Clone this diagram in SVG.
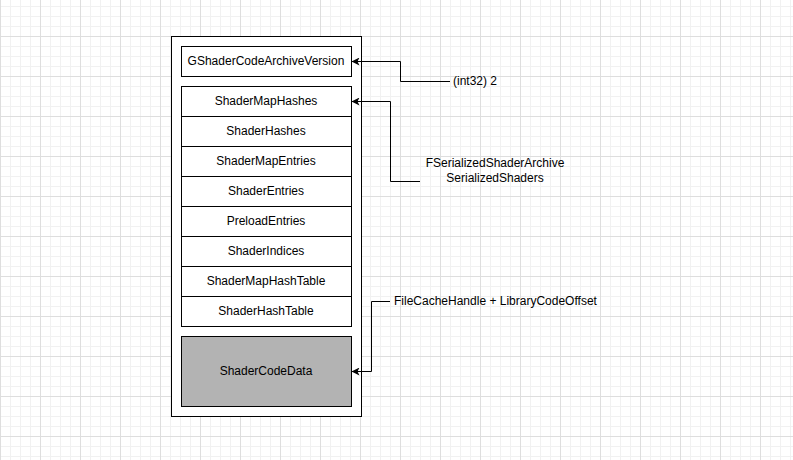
<svg xmlns="http://www.w3.org/2000/svg" width="793" height="460" viewBox="0 0 793 460">
  <defs>
    <pattern id="minor" patternUnits="userSpaceOnUse" x="0" y="6" width="10" height="10">
      <rect x="0" y="0" width="10" height="1" fill="#f1f1f1"/>
      <rect x="0" y="0" width="1" height="10" fill="#f1f1f1"/>
    </pattern>
    <pattern id="major" patternUnits="userSpaceOnUse" x="0" y="36" width="40" height="40">
      <rect x="0" y="0" width="40" height="1" fill="#dedede"/>
      <rect x="0" y="0" width="1" height="40" fill="#dedede"/>
    </pattern>
    <marker id="arrow" viewBox="0 0 10 10" refX="10" refY="5" markerWidth="8" markerHeight="8" markerUnits="userSpaceOnUse" orient="auto">
      <path d="M0,0 L10,5 L0,10 L2.5,5 Z" fill="#000"/>
    </marker>
    <style>
      .box { fill: #ffffff; stroke: #000; stroke-width: 1; }
      .dark { fill: #b3b3b3; stroke: #000; stroke-width: 1; }
      .lbl { font-family: "Liberation Sans", Arial, sans-serif; font-size: 12px; fill: #000; }
      .mid { text-anchor: middle; dominant-baseline: central; }
      .conn { fill: none; stroke: #000; stroke-width: 1; marker-end: url(#arrow); }
    </style>
  </defs>
  <rect x="0" y="0" width="793" height="460" fill="#ffffff"/>
  <rect x="0" y="0" width="793" height="460" fill="url(#minor)"/>
  <rect x="0" y="0" width="793" height="460" fill="url(#major)"/>

  <g id="container">
    <rect class="box" x="171.5" y="36.5" width="190" height="380"/>
  </g>
  <g id="version">
    <rect class="box" x="181.5" y="46.5" width="170" height="30"/>
    <text class="lbl mid" x="266" y="61">GShaderCodeArchiveVersion</text>
  </g>
  <g id="shaderMapHashes">
    <rect class="box" x="181.5" y="86.5" width="170" height="30"/>
    <text class="lbl mid" x="266" y="101">ShaderMapHashes</text>
  </g>
  <g id="shaderHashes">
    <rect class="box" x="181.5" y="116.5" width="170" height="30"/>
    <text class="lbl mid" x="266" y="131">ShaderHashes</text>
  </g>
  <g id="shaderMapEntries">
    <rect class="box" x="181.5" y="146.5" width="170" height="30"/>
    <text class="lbl mid" x="266" y="161">ShaderMapEntries</text>
  </g>
  <g id="shaderEntries">
    <rect class="box" x="181.5" y="176.5" width="170" height="30"/>
    <text class="lbl mid" x="266" y="191">ShaderEntries</text>
  </g>
  <g id="preloadEntries">
    <rect class="box" x="181.5" y="206.5" width="170" height="30"/>
    <text class="lbl mid" x="266" y="221">PreloadEntries</text>
  </g>
  <g id="shaderIndices">
    <rect class="box" x="181.5" y="236.5" width="170" height="30"/>
    <text class="lbl mid" x="266" y="251">ShaderIndices</text>
  </g>
  <g id="shaderMapHashTable">
    <rect class="box" x="181.5" y="266.5" width="170" height="30"/>
    <text class="lbl mid" x="266" y="281">ShaderMapHashTable</text>
  </g>
  <g id="shaderHashTable">
    <rect class="box" x="181.5" y="296.5" width="170" height="30"/>
    <text class="lbl mid" x="266" y="311">ShaderHashTable</text>
  </g>
  <g id="shaderCodeData">
    <rect class="dark" x="181.5" y="336.5" width="170" height="70"/>
    <text class="lbl mid" x="266" y="371">ShaderCodeData</text>
  </g>

  <g id="label-int32">
    <text class="lbl" x="453" y="81" dominant-baseline="central">(int32) 2</text>
  </g>
  <g id="label-serialized">
    <text class="lbl" text-anchor="middle" x="495" y="167">FSerializedShaderArchive</text>
    <text class="lbl" text-anchor="middle" x="495" y="182">SerializedShaders</text>
  </g>
  <g id="label-filecache">
    <text class="lbl" x="394" y="301" dominant-baseline="central">FileCacheHandle + LibraryCodeOffset</text>
  </g>

  <g id="connectors">
    <path class="conn" d="M450,81.5 H400.5 V61.5 H351.5"/>
    <path class="conn" d="M420,181.5 H390.5 V101.5 H351.5"/>
    <path class="conn" d="M390,301.5 H371.5 V371.5 H351.5"/>
  </g>
</svg>
